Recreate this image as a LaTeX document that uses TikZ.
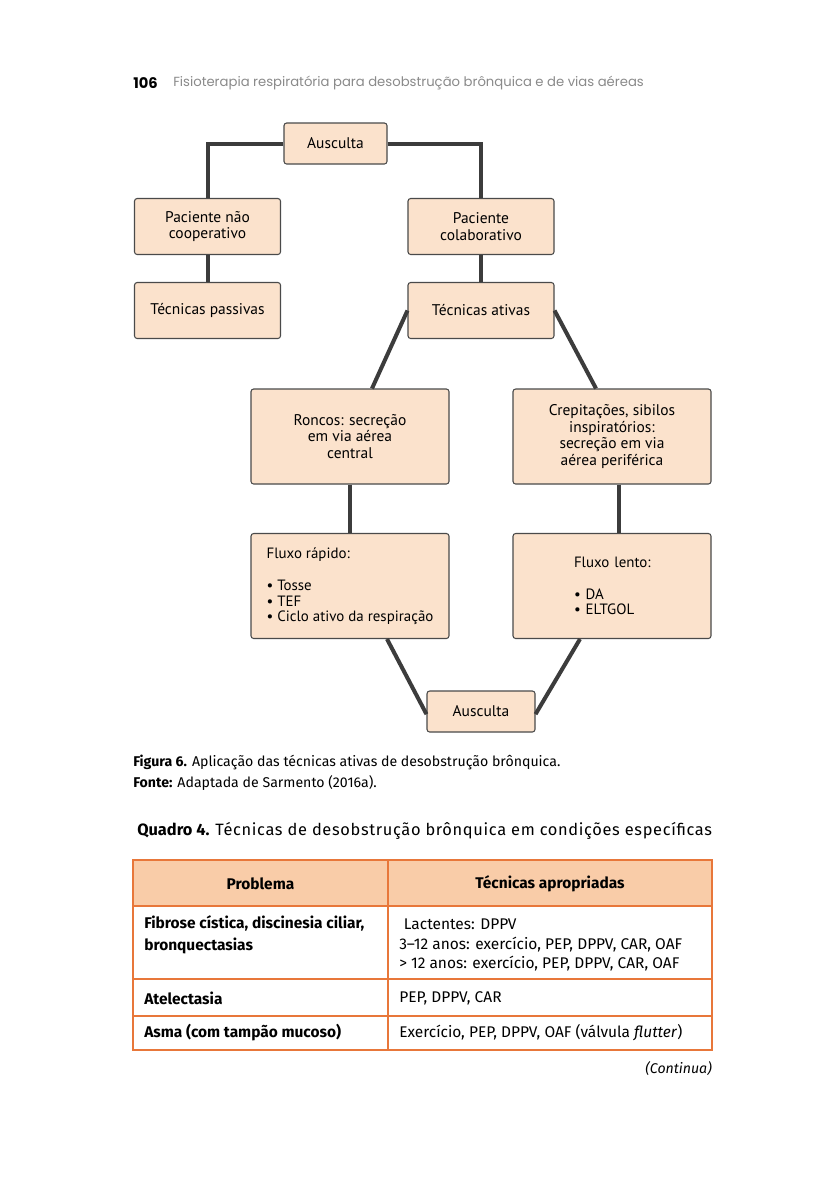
\documentclass[tikz,border=0pt]{standalone}
\usepackage{fontspec}
\setmainfont{Fira Sans}
\newfontfamily\boxfont{PT Sans}
\newfontfamily\headfont{Poppins}
\definecolor{boxfill}{HTML}{FBE2CC}
\definecolor{boxline}{HTML}{4A4A4A}
\definecolor{conn}{HTML}{3C3C3C}
\definecolor{tabor}{HTML}{E8773A}
\definecolor{tabhead}{HTML}{F9CCA8}
\definecolor{headgray}{HTML}{8A8A8A}
\tikzset{
  fbox/.style 2 args={draw=boxline, line width=0.8pt, fill=boxfill, rounded corners=2pt,
    minimum width=#1*0.75pt, minimum height=#2*0.75pt, inner sep=0pt,
    font=\boxfont\fontsize{11.6}{12.3}\selectfont, align=center},
  listbox/.style={font=\boxfont\fontsize{11.2}{11.5}\selectfont, align=left},
  conn/.style={draw=conn, line width=3pt},
  ttext/.style={font=\fontsize{11.6}{14.6}\selectfont, inner sep=0pt, anchor=west, align=left},
  tbold/.style={ttext, font=\bfseries\fontsize{11.6}{16.5}\selectfont},
}
\begin{document}
\begin{tikzpicture}[x=0.75pt, y=-0.75pt]
\useasboundingbox (0,0) rectangle (827,1200);
\fill[white] (0,0) rectangle (827,1200);

% header
\node[anchor=west, inner sep=0pt, font=\headfont\bfseries\fontsize{11}{12}\selectfont] (pg) at (133,83) {106};
\node[anchor=west, inner sep=0pt, text=headgray, font=\headfont\fontsize{9.9}{11}\selectfont] (ht) at (173,83) {Fisioterapia respiratória para desobstrução brônquica e de vias aéreas};

% flowchart boxes
\node[fbox={103}{41}] (aus1) at (335.5,143.5) {Ausculta};
\node[fbox={146}{56}] (nc) at (207.5,226.5) {Paciente não\\cooperativo};
\node[fbox={146}{56}] (col) at (481,226.5) {Paciente\\colaborativo};
\node[fbox={146}{56}] (tp) at (207.5,310.5) {Técnicas passivas};
\node[fbox={146}{56}] (ta) at (481,310.5) {Técnicas ativas};
\node[fbox={198}{95}] (ron) at (350,436.5) {Roncos: secreção\\em via aérea\\central};
\node[fbox={198}{95}] (cre) at (612,436.5) {Crepitações, sibilos\\inspiratórios:\\secreção em via\\aérea periférica};
\node[fbox={198}{105}, listbox] (rap) at (350,586)
  {Fluxo rápido:\\[13pt]• Tosse\\• TEF\\• Ciclo ativo da respiração};
\node[fbox={198}{105}, listbox, text width=57pt, inner xsep=45.75pt] (len) at (612,586)
  {Fluxo~lento:\\[12pt]•~DA\\•~ELTGOL};
\node[fbox={108}{41}] (aus2) at (481,711.5) {Ausculta};

% connectors
\draw[conn] (aus1.west) -| (nc.north);
\draw[conn] (aus1.east) -| (col.north);
\draw[conn] (nc.south) -- (tp.north);
\draw[conn] (col.south) -- (ta.north);
\draw[conn] (ta.west) -- ([xshift=16.5pt]ron.north);
\draw[conn] (ta.east) -- ([xshift=-12pt]cre.north);
\draw[conn] (ron.south) -- (rap.north);
\draw[conn] ([xshift=5pt]cre.south) -- ([xshift=5pt]len.north);
\draw[conn] ([xshift=27.75pt]rap.south) -- ([yshift=-2pt]aus2.west);
\draw[conn] ([xshift=-24pt]len.south) -- ([yshift=-2pt]aus2.east);

% caption
\node[anchor=west, inner sep=0pt, font=\fontsize{10.6}{12}\selectfont] (cap) at (133,762)
  {\textbf{Figura 6.} Aplicação das técnicas ativas de desobstrução brônquica.};
\node[anchor=west, inner sep=0pt, font=\fontsize{10.6}{12}\selectfont] (fon) at (133,783)
  {\textbf{Fonte:} Adaptada de Sarmento (2016a).};

% table title
\node[anchor=west, inner sep=0pt, font=\fontsize{12.3}{14}\selectfont] (qt) at (137,831)
  {\textbf{Quadro 4.} \addfontfeature{LetterSpace=4}Técnicas de desobstrução brônquica em condições específicas};

% table
\fill[tabhead] (133,860) rectangle (712,906);
\draw[tabor, line width=1.6pt] (133,860) rectangle (712,1050);
\draw[tabor, line width=1.6pt] (133,906) -- (712,906);
\draw[tabor, line width=1.6pt] (133,979) -- (712,979);
\draw[tabor, line width=1.6pt] (133,1016) -- (712,1016);
\draw[tabor, line width=1.6pt] (388,860) -- (388,1050);

\node[tbold, anchor=center] (h1) at (260.5,884) {Problema};
\node[tbold, anchor=center] (h2) at (550,884) {Técnicas apropriadas};

\node[tbold, anchor=north west] (p1) at (144,915) {Fibrose cística, discinesia ciliar,\\bronquectasias};
\node[ttext, anchor=north west] (t1) at (399,919)
  {\hspace{3.5pt}Lactentes: DPPV\\3–12 anos: exercício, PEP, DPPV, CAR, OAF\\> 12 anos: exercício, PEP, DPPV, CAR, OAF};
\node[tbold] (p2) at (144,998) {Atelectasia};
\node[ttext] (t2) at (399,998) {PEP, DPPV, CAR};
\node[tbold] (p3) at (144,1033) {Asma (com tampão mucoso)};
\node[ttext] (t3) at (399,1033) {Exercício, PEP, DPPV, OAF (válvula \textit{flutter})};

\node[anchor=east, inner sep=0pt, font=\itshape\fontsize{10.6}{12}\selectfont] (cont) at (712,1069) {(Continua)};
\end{tikzpicture}
\end{document}
